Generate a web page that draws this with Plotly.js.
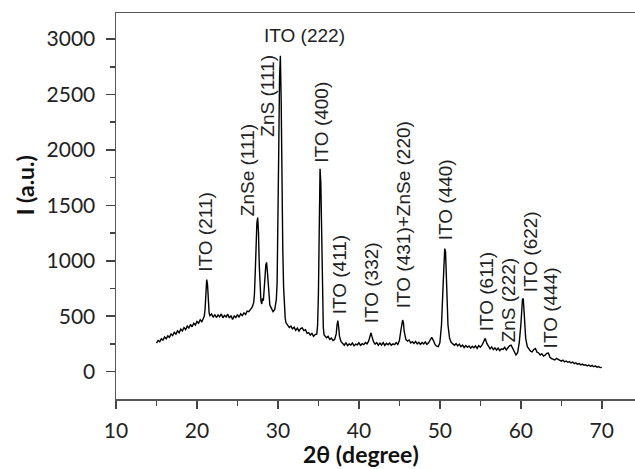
<!DOCTYPE html>
<html><head><meta charset="utf-8">
<script src="https://cdn.plot.ly/plotly-3.0.1.min.js"></script>
<style>html,body{margin:0;padding:0;background:#fff;}#chart{width:635px;height:469px;}</style>
</head><body><div id="chart"></div>
<script>
var twoTheta = [
15.0,15.2,15.4,15.6,15.8,16.0,16.2,16.4,16.6,16.8,17.0,17.2,17.4,17.6,17.8,18.0,18.2,18.4,18.6,18.8,
19.0,19.2,19.4,19.6,19.8,20.0,20.2,20.4,20.6,20.8,20.9,21.0,21.1,21.2,21.3,21.4,21.5,21.6,21.8,
22.0,22.2,22.4,22.6,22.8,23.0,23.2,23.4,23.6,23.8,24.0,24.2,24.4,24.6,24.8,25.0,25.2,25.4,25.6,25.8,
26.0,26.2,26.4,26.6,26.8,27.0,27.1,27.2,27.3,27.4,27.5,27.6,27.7,27.8,27.9,28.0,28.1,28.2,28.3,28.4,
28.5,28.6,28.7,28.8,28.9,29.0,29.2,29.4,29.6,29.8,29.9,30.0,30.1,30.2,30.3,30.4,30.5,30.6,30.7,30.8,
30.9,31.0,31.2,31.4,31.6,31.8,32.0,32.2,32.4,32.6,32.8,33.0,33.2,33.4,33.6,33.8,34.0,34.2,34.4,34.6,
34.8,34.9,35.0,35.1,35.2,35.3,35.4,35.5,35.6,35.7,35.8,36.0,36.2,36.4,36.6,36.8,37.0,37.2,37.3,37.4,
37.5,37.6,37.8,38.0,38.2,38.4,38.6,38.8,39.0,39.2,39.4,39.6,39.8,40.0,40.2,40.4,40.6,40.8,41.0,41.2,
41.4,41.5,41.6,41.8,42.0,42.2,42.4,42.6,42.8,43.0,43.2,43.4,43.6,43.8,44.0,44.2,44.4,44.6,44.8,45.0,
45.2,45.4,45.5,45.6,45.8,46.0,46.2,46.4,46.6,46.8,47.0,47.2,47.4,47.6,47.8,48.0,48.2,48.4,48.6,48.8,
49.0,49.2,49.4,49.6,49.8,50.0,50.2,50.4,50.5,50.6,50.7,50.8,50.9,51.0,51.2,51.4,51.6,51.8,52.0,52.2,
52.4,52.6,52.8,53.0,53.2,53.4,53.6,53.8,54.0,54.2,54.4,54.6,54.8,55.0,55.2,55.4,55.6,55.8,56.0,56.2,
56.4,56.6,56.8,57.0,57.2,57.4,57.6,57.8,58.0,58.2,58.4,58.6,58.8,59.0,59.2,59.4,59.6,59.8,60.0,60.1,
60.2,60.3,60.4,60.5,60.6,60.8,61.0,61.2,61.4,61.6,61.8,62.0,62.2,62.4,62.6,62.8,63.0,63.2,63.4,63.6,
63.8,64.0,64.2,64.4,64.6,64.8,65.0,65.2,65.4,65.6,65.8,66.0,66.2,66.4,66.6,66.8,67.0,67.2,67.4,67.6,
67.8,68.0,68.2,68.4,68.6,68.8,69.0,69.2,69.4,69.6,69.8,70.0
];
var intensity = [
258,281,270,296,284,312,296,322,309,340,326,355,338,368,350,384,366,398,379,411,
393,425,404,436,420,452,436,468,450,478,500,560,700,830,790,620,530,505,520,
490,515,488,512,495,520,486,508,492,518,484,505,470,502,488,515,490,522,505,530,
515,545,540,565,580,620,700,900,1150,1340,1390,1250,950,720,640,610,660,640,720,850,
960,985,900,760,650,600,570,540,560,650,800,1250,2000,2650,2850,2450,1600,1100,760,560,
480,440,420,398,410,385,400,372,392,365,388,395,370,378,345,352,330,345,318,335,
340,420,700,1350,1830,1700,1100,620,400,330,320,305,318,290,302,280,290,340,420,460,
400,320,270,255,238,262,235,250,240,258,232,248,242,260,236,252,244,262,250,275,
320,350,320,270,248,262,238,258,240,262,236,255,242,258,238,250,244,262,245,280,
380,465,440,360,290,275,285,258,270,255,272,250,265,245,262,250,268,245,260,285,
310,280,245,230,225,260,420,780,1000,1110,1080,900,620,420,300,265,250,238,252,232,
248,225,240,218,236,220,232,212,228,215,232,210,235,220,238,270,300,255,225,205,
222,198,215,195,212,190,205,200,220,195,215,232,238,205,185,150,170,260,420,560,
650,660,560,420,300,225,200,185,178,200,208,175,168,150,162,140,148,165,168,130,
118,112,105,120,110,108,95,104,88,96,84,90,78,86,72,80,66,74,60,68,
58,62,52,60,48,56,44,52,40,46,36,38
];
var peakLabels = ["ITO (211)","ZnSe (111)","ZnS (111)","ITO (222)","ITO (400)","ITO (411)","ITO (332)","ITO (431)+ZnSe (220)","ITO (440)","ITO (611)","ZnS (222)","ITO (622)","ITO (444)"];
var labelX = [21.12,26.18,28.78,33.22,35.45,37.55,41.50,45.45,50.64,55.71,58.43,61.14,63.61];
var labelY = [1262,1817,2490,3036,2246,878,797,1411,1546,725,644,1077,571];
var labelAngle = [-90,-90,-90,0,-90,-90,-90,-90,-90,-90,-90,-90,-90];
var xTickVals = [10,20,30,40,50,60,70];
var yTickVals = [0,500,1000,1500,2000,2500,3000];

var annotations = peakLabels.map(function(t,i){
  return {text:t, x:labelX[i], y:labelY[i], xref:'x', yref:'y', showarrow:false,
    textangle:labelAngle[i], xanchor:'center', yanchor:'middle',
    font:{family:'"Liberation Sans", Arial, sans-serif', size:19, color:'#222'}};
});
annotations.push({text:'2θ (degree)', x:0.472, y:-0.142, xref:'paper', yref:'paper', showarrow:false,
  xanchor:'center', yanchor:'middle', font:{family:'Lato, "Open Sans", sans-serif', size:23, color:'#111', weight:'bold'}});
annotations.push({text:'I (a.u.)', x:-0.175, y:0.554, xref:'paper', yref:'paper', showarrow:false, textangle:-90,
  xanchor:'center', yanchor:'middle', font:{family:'Lato, "Open Sans", sans-serif', size:23, color:'#111', weight:'bold'}});

var trace = {x:twoTheta, y:intensity, type:'scatter', mode:'lines',
  line:{color:'#000', width:1.4}, hoverinfo:'skip'};

var layout = {
  width:635, height:469,
  margin:{l:116, r:0, t:13, b:70},
  paper_bgcolor:'#fff', plot_bgcolor:'#fff',
  showlegend:false,
  xaxis:{range:[10,74.1], tickvals:xTickVals, ticktext:xTickVals.map(String),
    ticks:'outside', ticklen:8, tickwidth:1.5, tickcolor:'#444',
    minor:{dtick:5, tick0:0, ticks:'outside', ticklen:5, tickwidth:1.5, tickcolor:'#444'},
    showline:true, linecolor:'#555', linewidth:1.5, mirror:true,
    showgrid:false, zeroline:false,
    tickfont:{family:'Lato, "Open Sans", sans-serif', size:21, color:'#222'}, ticklabelstandoff:4},
  yaxis:{range:[-247,3235], tickvals:yTickVals, ticktext:yTickVals.map(String),
    ticks:'outside', ticklen:9, tickwidth:1.5, tickcolor:'#444',
    minor:{dtick:250, tick0:0, ticks:'outside', ticklen:5, tickwidth:1.5, tickcolor:'#444'},
    showline:true, linecolor:'#555', linewidth:1.5, mirror:false,
    showgrid:false, zeroline:false,
    tickfont:{family:'Lato, "Open Sans", sans-serif', size:21, color:'#222'}, ticklabelstandoff:6},
  annotations:annotations
};
Plotly.newPlot('chart',[trace],layout,{displayModeBar:false, staticPlot:true});
</script></body></html>
